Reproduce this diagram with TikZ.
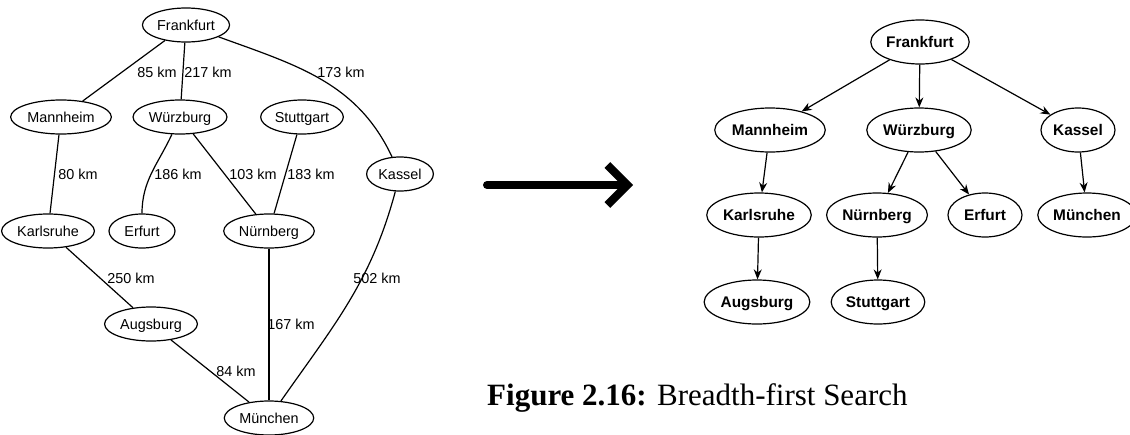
\documentclass[tikz,border=0pt]{standalone}
\usepackage{fontspec}
\setmainfont{Liberation Serif}
\setsansfont{Liberation Sans}
\usetikzlibrary{positioning,shapes,arrows.meta}

\begin{document}
\begin{tikzpicture}[x=0.5pt,y=0.5pt,
    city/.style={ellipse,draw,line width=0.6pt,inner xsep=1pt,inner ysep=1pt,
      minimum width=33pt,minimum height=17pt,text height=1.5ex,text depth=.3ex,
      font=\sffamily\fontsize{7.2}{8}\selectfont},
    tcity/.style={city,minimum width=37pt,minimum height=22pt,inner xsep=0.5pt,
      font=\sffamily\bfseries\fontsize{7.7}{9}\selectfont},
    dist/.style={font=\sffamily\fontsize{7.2}{8}\selectfont,inner sep=0pt},
    road/.style={line width=0.6pt},
    visit/.style={line width=0.6pt,-{Stealth[length=5pt,width=4pt]}},
    bigarrow/.style={line width=4pt,line cap=round,-{Straight Barb[length=10pt,width=20pt]}}]
    \useasboundingbox (0,0) rectangle (1130,-434);

    % road map
    \node[city] (fra) at (186,-25) {Frankfurt};
    \node[city] (man) at (61,-117) {Mannheim};
    \node[city] (wue) at (180,-117) {Würzburg};
    \node[city] (stu) at (302,-117) {Stuttgart};
    \node[city] (kas) at (400,-174) {Kassel};
    \node[city] (kar) at (48,-231) {Karlsruhe};
    \node[city] (erf) at (142,-231) {Erfurt};
    \node[city] (nue) at (269,-231) {Nürnberg};
    \node[city] (aug) at (151,-324) {Augsburg};
    \node[city] (mue) at (269,-418) {München};

    \draw[road] (fra) -- (man);
    \draw[road] (fra) -- (wue);
    \draw[road] (fra) to[out=-20,in=115] (kas);
    \draw[road] (man) -- (kar);
    \draw[road] (wue) to[out=-115,in=90] (erf);
    \draw[road] (wue) -- (nue);
    \draw[road] (stu) -- (nue);
    \draw[road] (kas) to[out=-105,in=55] (mue);
    \draw[road] (kar) -- (aug);
    \draw[road] (nue) -- (mue);
    \draw[road] (aug) -- (mue);

    \node[dist] (d85) at (157,-72) {85 km};
    \node[dist] (d217) at (208,-72) {217 km};
    \node[dist] (d173) at (341,-72) {173 km};
    \node[dist] (d80) at (78,-174) {80 km};
    \node[dist] (d186) at (178,-174) {186 km};
    \node[dist] (d103) at (253,-174) {103 km};
    \node[dist] (d183) at (311,-174) {183 km};
    \node[dist] (d250) at (131,-278) {250 km};
    \node[dist] (d502) at (377,-278) {502 km};
    \node[dist] (d167) at (291,-324) {167 km};
    \node[dist] (d84) at (236,-371) {84 km};

    % arrow
    \coordinate (ar0) at (487,-185);
    \coordinate (ar1) at (633,-185);
    \draw[bigarrow] (ar0) -- (ar1);

    % search tree
    \node[tcity] (bfra) at (920,-42) {Frankfurt};
    \node[tcity] (bman) at (770,-130) {Mannheim};
    \node[tcity] (bwue) at (919,-130) {Würzburg};
    \node[tcity] (bkas) at (1078,-130) {Kassel};
    \node[tcity] (bkar) at (759,-215) {Karlsruhe};
    \node[tcity] (bnue) at (877,-215) {Nürnberg};
    \node[tcity] (berf) at (985,-215) {Erfurt};
    \node[tcity] (bmue) at (1087,-215) {München};
    \node[tcity] (baug) at (757,-302) {Augsburg};
    \node[tcity] (bstu) at (878,-302) {Stuttgart};

    \draw[visit] (bfra) -- (bman);
    \draw[visit] (bfra) -- (bwue);
    \draw[visit] (bfra) -- (bkas);
    \draw[visit] (bman) -- (bkar);
    \draw[visit] (bwue) -- (bnue);
    \draw[visit] (bwue) -- (berf);
    \draw[visit] (bkas) -- (bmue);
    \draw[visit] (bkar) -- (baug);
    \draw[visit] (bnue) -- (bstu);

    \node[anchor=base east,inner sep=0pt,font=\fontsize{15.5}{18}\selectfont] (cap) at (908,-405)
        {\textbf{Figure 2.16:} Breadth-first Search};
\end{tikzpicture}
\end{document}
